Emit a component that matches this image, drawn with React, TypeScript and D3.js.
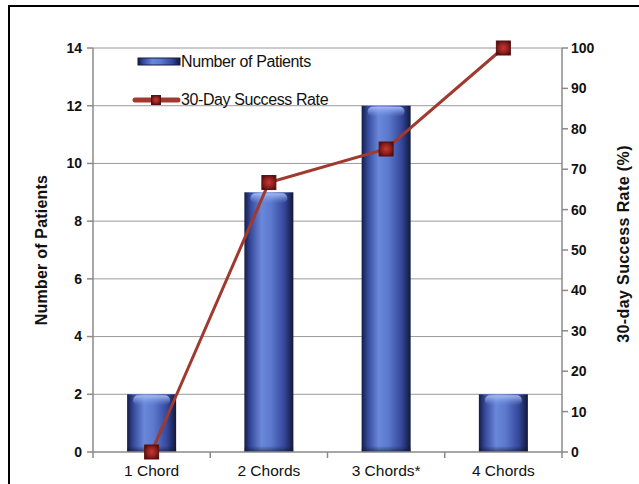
import React from 'react';
import * as d3 from 'd3';

const categories = ['1 Chord', '2 Chords', '3 Chords*', '4 Chords'];
const patients = [2, 9, 12, 2];
const successRate = [0, 66.7, 75, 100];
const leftTicks = [0, 2, 4, 6, 8, 10, 12, 14];
const rightTicks = [0, 10, 20, 30, 40, 50, 60, 70, 80, 90, 100];

const W = 639;
const H = 484;
const plot = { left: 93, right: 562, top: 48, bottom: 452 };
const font = '"Liberation Sans", Arial, sans-serif';
const lineColor = '#a0392f';

const Marker: React.FC<{ cx: number; cy: number; size: number }> = ({ cx, cy, size }) => (
  <g>
    <rect x={cx - size / 2} y={cy - size / 2} width={size} height={size} fill="url(#markerGrad)" />
    <rect x={cx - size / 2} y={cy - size / 2} width={size} height={size} fill="none" stroke="#5a1010" strokeWidth={1} />
  </g>
);

const App: React.FC = () => {
  const x = d3.scaleBand<string>().domain(categories).range([plot.left, plot.right]);
  const yL = d3.scaleLinear().domain([0, 14]).range([plot.bottom, plot.top]);
  const yR = d3.scaleLinear().domain([0, 100]).range([plot.bottom, plot.top]);
  const barW = 49;
  const cx = (c: string) => (x(c) ?? 0) + x.bandwidth() / 2;

  const line = d3.line<number>()
    .x((_, i) => cx(categories[i]))
    .y(d => yR(d));

  const boundaries = [plot.left, ...categories.map(c => (x(c) ?? 0) + x.bandwidth())];

  return (
    <svg width={W} height={H} style={{ position: 'absolute', left: 0, top: 0, background: '#fff' }}>
      <defs>
        <linearGradient id="barGrad" x1="0" x2="1" y1="0" y2="0">
          <stop offset="0%" stopColor="#141c45" />
          <stop offset="12%" stopColor="#34479a" />
          <stop offset="35%" stopColor="#6a88da" />
          <stop offset="55%" stopColor="#5b78cc" />
          <stop offset="82%" stopColor="#34469a" />
          <stop offset="100%" stopColor="#111838" />
        </linearGradient>
        <linearGradient id="capGrad" x1="0" x2="0" y1="0" y2="1">
          <stop offset="0%" stopColor="#a8c0f8" stopOpacity={0.95} />
          <stop offset="100%" stopColor="#7f9ae6" stopOpacity={0} />
        </linearGradient>
        <linearGradient id="baseGrad" x1="0" x2="0" y1="0" y2="1">
          <stop offset="0%" stopColor="#0d1430" stopOpacity={0} />
          <stop offset="100%" stopColor="#0d1430" stopOpacity={0.6} />
        </linearGradient>
        <radialGradient id="markerGrad" cx="50%" cy="50%" r="60%">
          <stop offset="0%" stopColor="#c23a34" />
          <stop offset="60%" stopColor="#8e1e1c" />
          <stop offset="100%" stopColor="#4e0c0c" />
        </radialGradient>
      </defs>

      {/* frame */}
      <rect x={9} y={6} width={700} height={600} fill="none" stroke="#000" strokeWidth={2} />

      {/* gridlines */}
      {leftTicks.filter(t => t > 0).map(t => (
        <line key={'g' + t} x1={plot.left} x2={plot.right} y1={yL(t)} y2={yL(t)} stroke="#9a9a9a" strokeWidth={1} />
      ))}

      {/* bars */}
      {categories.map((c, i) => {
        const bx = cx(c) - barW / 2;
        const by = yL(patients[i]);
        const bh = plot.bottom - by;
        return (
          <g key={'b' + c}>
            <rect x={bx} y={by} width={barW} height={bh} fill="url(#barGrad)" />
            <rect x={bx + 6} y={by + 1} width={barW - 12} height={10} rx={5} fill="url(#capGrad)" />
            <rect x={bx} y={plot.bottom - 6} width={barW} height={6} fill="url(#baseGrad)" />
          </g>
        );
      })}

      {/* axes */}
      <line x1={plot.left} x2={plot.left} y1={plot.top} y2={plot.bottom} stroke="#8a8a8a" strokeWidth={1.5} />
      <line x1={plot.right} x2={plot.right} y1={plot.top} y2={plot.bottom} stroke="#8a8a8a" strokeWidth={1.5} />
      <line x1={plot.left} x2={plot.right} y1={plot.bottom} y2={plot.bottom} stroke="#8a8a8a" strokeWidth={1.5} />

      {leftTicks.map(t => (
        <g key={'l' + t}>
          <line x1={plot.left - 6} x2={plot.left} y1={yL(t)} y2={yL(t)} stroke="#8a8a8a" strokeWidth={1.5} />
          <text x={plot.left - 11} y={yL(t)} dy="0.35em" textAnchor="end" fontFamily={font} fontSize={14} fontWeight="bold" fill="#111">{t}</text>
        </g>
      ))}
      {rightTicks.map(t => (
        <g key={'r' + t}>
          <line x1={plot.right} x2={plot.right + 6} y1={yR(t)} y2={yR(t)} stroke="#8a8a8a" strokeWidth={1.5} />
          <text x={plot.right + 9} y={yR(t)} dy="0.35em" textAnchor="start" fontFamily={font} fontSize={14} fontWeight="bold" fill="#111">{t}</text>
        </g>
      ))}
      {boundaries.map((b, i) => (
        <line key={'xt' + i} x1={b} x2={b} y1={plot.bottom} y2={plot.bottom + 6} stroke="#8a8a8a" strokeWidth={1.5} />
      ))}
      {categories.map(c => (
        <text key={'xl' + c} x={cx(c)} y={476} textAnchor="middle" fontFamily={font} fontSize={15.5} fill="#111">{c}</text>
      ))}

      {/* axis titles */}
      <text transform={`translate(47,250) rotate(-90)`} textAnchor="middle" fontFamily={font} fontSize={16} fontWeight="bold" fill="#111" letterSpacing={0.2}>Number of Patients</text>
      <text transform={`translate(629,244) rotate(-90)`} textAnchor="middle" fontFamily={font} fontSize={16} fontWeight="bold" fill="#111" letterSpacing={0.4}>30-day Success Rate (%)</text>

      {/* success rate line */}
      <path d={line(successRate) ?? ''} fill="none" stroke={lineColor} strokeWidth={3} />
      {successRate.map((v, i) => (
        <Marker key={'m' + i} cx={cx(categories[i])} cy={yR(v)} size={14} />
      ))}

      {/* legend */}
      <rect x={138} y={58} width={42} height={7} fill="url(#barGrad)" />
      <rect x={138} y={58} width={42} height={7} fill="none" stroke="#141c45" strokeWidth={1} />
      <text x={181} y={67} fontFamily={font} fontSize={16} fill="#111" letterSpacing={-0.4}>Number of Patients</text>
      <line x1={135} x2={178} y1={100} y2={100} stroke={lineColor} strokeWidth={5} strokeLinecap="round" />
      <Marker cx={156} cy={100} size={9} />
      <text x={181} y={105} fontFamily={font} fontSize={16} fill="#111" letterSpacing={-0.4}>30-Day Success Rate</text>
    </svg>
  );
};

export default App;
